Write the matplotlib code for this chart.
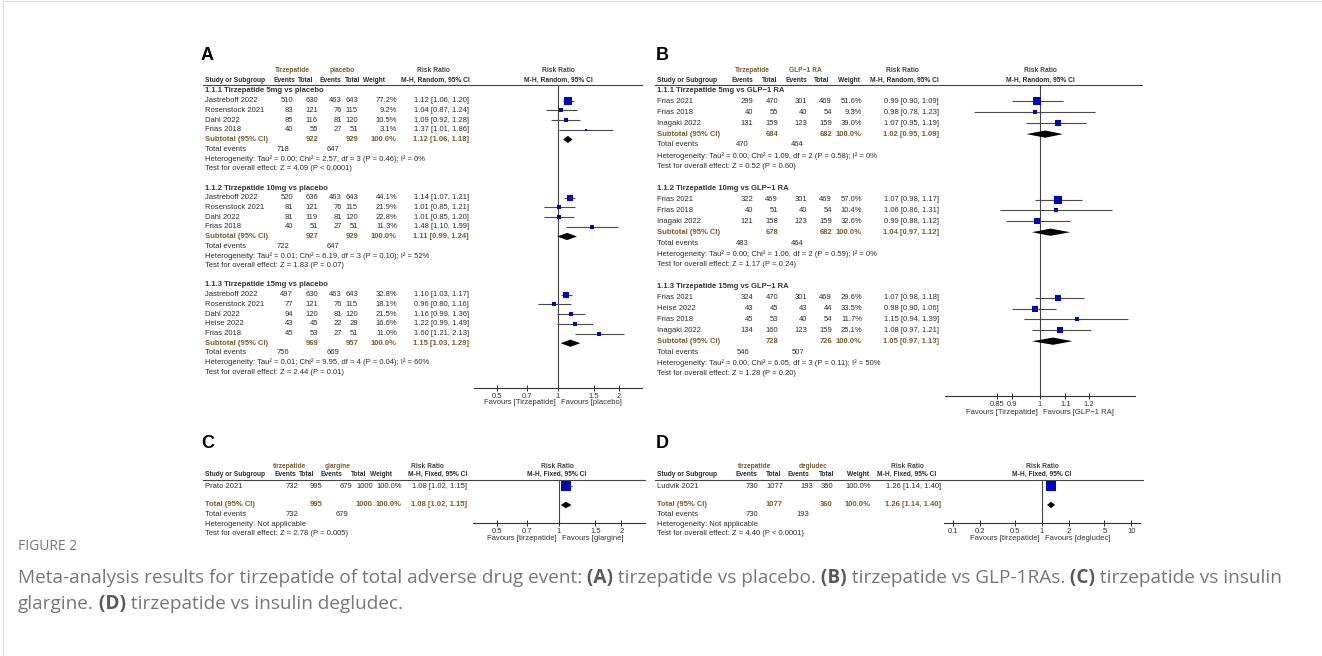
import numpy as np
import matplotlib
matplotlib.use("Agg")
import matplotlib.pyplot as plt
from matplotlib import transforms
from matplotlib.ticker import FixedLocator, NullLocator

W, H = 1322, 656
plt.rcParams['font.family'] = 'Liberation Sans'
plt.rcParams['font.size'] = 5.5

TXT = '#2b2b2b'
GRP = '#7a5a2a'
BLUE = '#0000c8'
CI_COL = '#4a4a4a'
HEAD_FS = 4.8

# ---------------- A: tirzepatide vs placebo (random effects)
a_titles = ['1.1.1 Tirzepatide 5mg vs placebo',
            '1.1.2 Tirzepatide 10mg vs placebo',
            '1.1.3 Tirzepatide 15mg vs placebo']
a_study = [['Jastreboff 2022', 'Rosenstock 2021', 'Dahl 2022', 'Frias 2018'],
           ['Jastreboff 2022', 'Rosenstock 2021', 'Dahl 2022', 'Frias 2018'],
           ['Jastreboff 2022', 'Rosenstock 2021', 'Dahl 2022', 'Heise 2022', 'Frias 2018']]
a_ev_t = [[510, 83, 85, 40], [520, 81, 81, 40], [497, 77, 94, 43, 45]]
a_n_t = [[630, 121, 116, 55], [636, 121, 119, 51], [630, 121, 120, 45, 53]]
a_ev_c = [[463, 76, 81, 27], [463, 76, 81, 27], [463, 76, 81, 22, 27]]
a_n_c = [[643, 115, 120, 51], [643, 115, 120, 51], [643, 115, 120, 28, 51]]
a_weight = [[77.2, 9.2, 10.5, 3.1], [44.1, 21.9, 22.8, 11.3], [32.8, 18.1, 21.5, 16.6, 11.0]]
a_rr = [[1.12, 1.04, 1.09, 1.37], [1.14, 1.01, 1.01, 1.48], [1.10, 0.96, 1.16, 1.22, 1.60]]
a_lo = [[1.06, 0.87, 0.92, 1.01], [1.07, 0.85, 0.85, 1.10], [1.03, 0.80, 0.99, 0.99, 1.21]]
a_hi = [[1.20, 1.24, 1.28, 1.86], [1.21, 1.21, 1.20, 1.99], [1.17, 1.16, 1.36, 1.49, 2.13]]
a_sub_rr = [1.12, 1.11, 1.15]
a_sub_lo = [1.06, 0.99, 1.03]
a_sub_hi = [1.18, 1.24, 1.29]
a_sub_w = [100.0, 100.0, 100.0]
a_sub_n_t = [922, 927, 969]
a_sub_n_c = [929, 929, 957]
a_tot_t = [718, 722, 756]
a_tot_c = [647, 647, 669]
a_het = ['Heterogeneity: Tau² = 0.00; Chi² = 2.57, df = 3 (P = 0.46); I² = 0%',
         'Heterogeneity: Tau² = 0.01; Chi² = 6.19, df = 3 (P = 0.10); I² = 52%',
         'Heterogeneity: Tau² = 0.01; Chi² = 9.95, df = 4 (P = 0.04); I² = 60%']
a_z = ['Z = 4.09 (P < 0.0001)', 'Z = 1.83 (P = 0.07)', 'Z = 2.44 (P = 0.01)']
a_ticks = [0.5, 0.7, 1, 1.5, 2]

# ---------------- B: tirzepatide vs GLP-1 RA (random effects)
b_titles = ['1.1.1 Tirzepatide 5mg vs GLP\u22121 RA',
            '1.1.2 Tirzepatide 10mg vs GLP\u22121 RA',
            '1.1.3 Tirzepatide 15mg vs GLP\u22121 RA']
b_study = [['Frias 2021', 'Frias 2018', 'Inagaki 2022'],
           ['Frias 2021', 'Frias 2018', 'Inagaki 2022'],
           ['Frias 2021', 'Heise 2022', 'Frias 2018', 'Inagaki 2022']]
b_ev_t = [[299, 40, 131], [322, 40, 121], [324, 43, 45, 134]]
b_n_t = [[470, 55, 159], [469, 51, 158], [470, 45, 53, 160]]
b_ev_c = [[301, 40, 123], [301, 40, 123], [301, 43, 40, 123]]
b_n_c = [[469, 54, 159], [469, 54, 159], [469, 44, 54, 159]]
b_weight = [[51.6, 9.3, 39.0], [57.0, 10.4, 32.6], [29.6, 33.5, 11.7, 25.1]]
b_rr = [[0.99, 0.98, 1.07], [1.07, 1.06, 0.99], [1.07, 0.98, 1.15, 1.08]]
b_lo = [[0.90, 0.78, 0.95], [0.98, 0.86, 0.88], [0.98, 0.90, 0.94, 0.97]]
b_hi = [[1.09, 1.23, 1.19], [1.17, 1.31, 1.12], [1.18, 1.06, 1.39, 1.21]]
b_sub_rr = [1.02, 1.04, 1.05]
b_sub_lo = [0.95, 0.97, 0.97]
b_sub_hi = [1.09, 1.12, 1.13]
b_sub_w = [100.0, 100.0, 100.0]
b_sub_n_t = [684, 678, 728]
b_sub_n_c = [682, 682, 726]
b_tot_t = [470, 483, 546]
b_tot_c = [464, 464, 507]
b_het = ['Heterogeneity: Tau² = 0.00; Chi² = 1.09, df = 2 (P = 0.58); I² = 0%',
         'Heterogeneity: Tau² = 0.00; Chi² = 1.06, df = 2 (P = 0.59); I² = 0%',
         'Heterogeneity: Tau² = 0.00; Chi² = 6.05, df = 3 (P = 0.11); I² = 50%']
b_z = ['Z = 0.52 (P = 0.60)', 'Z = 1.17 (P = 0.24)', 'Z = 1.28 (P = 0.20)']
b_ticks = [0.85, 0.9, 1, 1.1, 1.2]

# ---------------- C: tirzepatide vs insulin glargine (fixed effect)
c_study = 'Prato 2021'
c_ev_t, c_n_t, c_ev_c, c_n_c = 732, 995, 679, 1000
c_weight = 100.0
c_rr, c_lo, c_hi = 1.08, 1.02, 1.15
c_tot_rr, c_tot_lo, c_tot_hi = 1.08, 1.02, 1.15
c_z = 'Z = 2.78 (P = 0.005)'
c_ticks = [0.5, 0.7, 1, 1.5, 2]

# ---------------- D: tirzepatide vs insulin degludec (fixed effect)
d_study = 'Ludvik 2021'
d_ev_t, d_n_t, d_ev_c, d_n_c = 730, 1077, 193, 360
d_weight = 100.0
d_rr, d_lo, d_hi = 1.26, 1.14, 1.40
d_tot_rr, d_tot_lo, d_tot_hi = 1.26, 1.14, 1.40
d_z = 'Z = 4.40 (P < 0.0001)'
d_ticks = [0.1, 0.2, 0.5, 1, 2, 5, 10]

fig = plt.figure(figsize=(W / 100, H / 100), dpi=100)
bg = fig.add_axes([0, 0, 1, 1])
bg.set_xlim(0, W)
bg.set_ylim(H, 0)
bg.axis('off')

# page frame
bg.plot([3, W], [1, 1], color='#dcdcdc', lw=0.8)
bg.plot([3, 3], [1, H], color='#dcdcdc', lw=0.8)


def forest_axes(x0, x1, top, base, row0, step, xlim, ticks):
    ax = fig.add_axes([x0 / W, 1 - base / H, (x1 - x0) / W, (base - top) / H])
    ax.set_xscale('log')
    ax.set_xlim(xlim)
    ax.set_ylim((base - row0) / step, (top - row0) / step)
    ax.xaxis.set_major_locator(FixedLocator(ticks))
    ax.xaxis.set_minor_locator(NullLocator())
    ax.set_xticklabels([f'{t:g}' for t in ticks])
    ax.set_yticks([])
    for side in ('top', 'left', 'right'):
        ax.spines[side].set_visible(False)
    ax.spines['bottom'].set_color('#333333')
    ax.spines['bottom'].set_linewidth(0.8)
    ax.tick_params(axis='x', direction='inout', length=5, width=0.7, pad=1,
                   colors='#333333', labelsize=5.5)
    ax.patch.set_alpha(0)
    ax.axvline(1, color='#444444', lw=0.8, zorder=1)
    return ax


def cell(ax, x, row, s, ha='right', bold=False, color=TXT):
    tr = transforms.blended_transform_factory(bg.transData, ax.transData)
    ax.text(x, row, s, transform=tr, ha=ha, va='center', color=color,
            fontweight='bold' if bold else 'normal', clip_on=False)


def header(x_study, cols_c, grp_c, names, method, line, y1, y2, fx):
    kw = dict(va='center', fontweight='bold', fontsize=HEAD_FS)
    bg.text(grp_c[0], y1, names[0], ha='center', color=GRP, **kw)
    bg.text(grp_c[1], y1, names[1], ha='center', color=GRP, **kw)
    bg.text(grp_c[2], y1, 'Risk Ratio', ha='center', color='#444444', **kw)
    bg.text(fx, y1, 'Risk Ratio', ha='center', color='#444444', **kw)
    bg.text(x_study, y2, 'Study or Subgroup', ha='left', color=TXT, **kw)
    for x, s in zip(cols_c, ['Events', 'Total', 'Events', 'Total', 'Weight', method]):
        bg.text(x, y2, s, ha='center', color=TXT, **kw)
    bg.text(fx, y2, method, ha='center', color=TXT, **kw)
    bg.plot(line[:2], [line[2], line[2]], color='#444444', lw=0.8)


def favours(ax, y, left, right):
    tr = transforms.blended_transform_factory(ax.transData, bg.transData)
    ax.text(1, y, left, ha='right', va='center', color='#333333', clip_on=False,
            transform=transforms.offset_copy(tr, fig=fig, x=-2, units='dots'))
    ax.text(1, y, right, ha='left', va='center', color='#333333', clip_on=False,
            transform=transforms.offset_copy(tr, fig=fig, x=3, units='dots'))


def study_mark(ax, row, w, rr, lo, hi):
    side = max(2.0, 10.0 * np.sqrt(w / 100.0)) * 0.72
    ax.hlines(row, lo, hi, color=CI_COL, lw=0.8, zorder=2)
    ax.scatter([rr], [row], s=side ** 2, marker='s', color=BLUE, linewidths=0, zorder=3)


def diamond(ax, row, rr, lo, hi, half):
    ax.fill([lo, rr, hi, rr], [row, row - half, row, row + half], color='black', lw=0, zorder=3)


def fmt_ci(rr, lo, hi):
    return f'{rr:.2f} [{lo:.2f}, {hi:.2f}]'


def subgroup_panel(ax, step, xs, cols, titles, study, ev_t, n_t, ev_c, n_c, wt, rr, lo, hi,
                   s_rr, s_lo, s_hi, s_w, s_nt, s_nc, tot_t, tot_c, het, z):
    r = 0
    for g in range(len(titles)):
        cell(ax, xs, r, titles[g], ha='left', bold=True, color='#333333')
        r += 1
        for k in range(len(study[g])):
            cell(ax, xs, r, study[g][k], ha='left')
            cell(ax, cols[0], r, str(ev_t[g][k]))
            cell(ax, cols[1], r, str(n_t[g][k]))
            cell(ax, cols[2], r, str(ev_c[g][k]))
            cell(ax, cols[3], r, str(n_c[g][k]))
            cell(ax, cols[4], r, f'{wt[g][k]:.1f}%')
            cell(ax, cols[5], r, fmt_ci(rr[g][k], lo[g][k], hi[g][k]))
            study_mark(ax, r, wt[g][k], rr[g][k], lo[g][k], hi[g][k])
            r += 1
        cell(ax, xs, r, 'Subtotal (95% CI)', ha='left', bold=True, color=GRP)
        cell(ax, cols[1], r, str(s_nt[g]), bold=True, color=GRP)
        cell(ax, cols[3], r, str(s_nc[g]), bold=True, color=GRP)
        cell(ax, cols[4], r, f'{s_w[g]:.1f}%', bold=True, color=GRP)
        cell(ax, cols[5], r, fmt_ci(s_rr[g], s_lo[g], s_hi[g]), bold=True, color=GRP)
        diamond(ax, r, s_rr[g], s_lo[g], s_hi[g], 3.6 / step)
        r += 1
        cell(ax, xs, r, 'Total events', ha='left')
        cell(ax, cols[0] - 4, r, str(tot_t[g]))
        cell(ax, cols[2] - 3, r, str(tot_c[g]))
        r += 1
        cell(ax, xs, r, het[g], ha='left')
        r += 1
        cell(ax, xs, r, 'Test for overall effect: ' + z[g], ha='left')
        r += 2


def single_panel(ax, step, xs, cols, study, ev_t, n_t, ev_c, n_c, wt, rr, lo, hi,
                 t_rr, t_lo, t_hi, z):
    cell(ax, xs, 0, study, ha='left')
    for x, v in zip(cols[:4], [ev_t, n_t, ev_c, n_c]):
        cell(ax, x, 0, str(v))
    cell(ax, cols[4], 0, f'{wt:.1f}%')
    cell(ax, cols[5], 0, fmt_ci(rr, lo, hi))
    study_mark(ax, 0, wt, rr, lo, hi)
    cell(ax, xs, 2, 'Total (95% CI)', ha='left', bold=True, color=GRP)
    cell(ax, cols[1], 2, str(n_t), bold=True, color=GRP)
    cell(ax, cols[3], 2, str(n_c), bold=True, color=GRP)
    cell(ax, cols[4], 2, f'{wt:.1f}%', bold=True, color=GRP)
    cell(ax, cols[5], 2, fmt_ci(t_rr, t_lo, t_hi), bold=True, color=GRP)
    diamond(ax, 2, t_rr, t_lo, t_hi, 3.2 / step)
    cell(ax, xs, 3, 'Total events', ha='left')
    cell(ax, cols[0], 3, str(ev_t))
    cell(ax, cols[2] - 4, 3, str(ev_c))
    cell(ax, xs, 4, 'Heterogeneity: Not applicable', ha='left')
    cell(ax, xs, 5, 'Test for overall effect: ' + z, ha='left')


# ---------------- panel A
bg.text(207, 55, 'A', fontsize=13, fontweight='bold', ha='center', va='center', color='black')
header(205, [284, 306, 330, 353, 374, 435], (292, 342, 433), ('Tirzepatide', 'placebo'),
       'M-H, Random, 95% CI', (203, 642, 84.5), 71, 80.5, 558)
ax_a = forest_axes(474, 642, 84.5, 388, 91, 9.7, (1 / 2.6, 2.6), a_ticks)
subgroup_panel(ax_a, 9.7, 205, [293, 318, 342, 358, 397, 469], a_titles, a_study,
               a_ev_t, a_n_t, a_ev_c, a_n_c, a_weight, a_rr, a_lo, a_hi,
               a_sub_rr, a_sub_lo, a_sub_hi, a_sub_w, a_sub_n_t, a_sub_n_c,
               a_tot_t, a_tot_c, a_het, a_z)
favours(ax_a, 403, 'Favours [Tirzepatide]', 'Favours [placebo]')

# ---------------- panel B
bg.text(662, 55, 'B', fontsize=13, fontweight='bold', ha='center', va='center', color='black')
header(657, [742, 770, 796, 822, 849, 904], (752, 805, 902), ('Tirzepatide', 'GLP\u22121 RA'),
       'M-H, Random, 95% CI', (655, 1142, 84.5), 70.5, 80.5, 1040)
ax_b = forest_axes(945, 1135, 84.5, 396, 90.5, 10.9, (0.7, 1 / 0.7), b_ticks)
subgroup_panel(ax_b, 10.9, 657, [753, 778, 807, 832, 862, 939], b_titles, b_study,
               b_ev_t, b_n_t, b_ev_c, b_n_c, b_weight, b_rr, b_lo, b_hi,
               b_sub_rr, b_sub_lo, b_sub_hi, b_sub_w, b_sub_n_t, b_sub_n_c,
               b_tot_t, b_tot_c, b_het, b_z)
favours(ax_b, 413, 'Favours [Tirzepatide]', 'Favours [GLP\u22121 RA]')

# ---------------- panel C
bg.text(208, 443, 'C', fontsize=13, fontweight='bold', ha='center', va='center', color='black')
header(205, [285, 307, 331, 359, 381, 438], (290, 338, 427), ('tirzepatide', 'glargine'),
       'M-H, Fixed, 95% CI', (203, 645, 479.5), 466.5, 474.5, 557)
ax_c = forest_axes(473, 645, 479.5, 523, 486, 9.5, (1 / 2.6, 2.6), c_ticks)
single_panel(ax_c, 9.5, 205, [298, 322, 352, 373, 402, 467], c_study, c_ev_t, c_n_t, c_ev_c,
             c_n_c, c_weight, c_rr, c_lo, c_hi, c_tot_rr, c_tot_lo, c_tot_hi, c_z)
favours(ax_c, 538, 'Favours [tirzepatide]', 'Favours [glargine]')

# ---------------- panel D
bg.text(662, 443, 'D', fontsize=13, fontweight='bold', ha='center', va='center', color='black')
header(657, [746, 774, 798, 827, 858, 907], (755, 813, 907), ('tirzepatide', 'degludec'),
       'M-H, Fixed, 95% CI', (655, 1143, 479.5), 466.5, 474.5, 1042)
ax_d = forest_axes(944, 1140, 479.5, 523, 486, 9.5, (0.08, 12.5), d_ticks)
single_panel(ax_d, 9.5, 657, [758, 783, 813, 833, 871, 941], d_study, d_ev_t, d_n_t, d_ev_c,
             d_n_c, d_weight, d_rr, d_lo, d_hi, d_tot_rr, d_tot_lo, d_tot_hi, d_z)
favours(ax_d, 538, 'Favours [tirzepatide]', 'Favours [degludec]')

# ---------------- caption
CAP = '#767676'
bg.text(18, 547, 'FIGURE 2', fontfamily='Open Sans', fontsize=10, color=CAP, va='center', ha='left')


def caption_line(y, pieces):
    prev = None
    for s, bold in pieces:
        kw = dict(fontfamily='Open Sans', fontsize=13.7, color='#5a5a5a' if bold else CAP,
                  fontweight='bold' if bold else 'normal', va='center', ha='left')
        if prev is None:
            prev = bg.text(18, y, s, **kw)
        else:
            prev = bg.annotate(s, xy=(1, 0.5), xycoords=prev, **kw)


caption_line(578, [('Meta-analysis results for tirzepatide of total adverse drug event:', False),
                   (' (A)', True), (' tirzepatide vs placebo.', False),
                   (' (B)', True), (' tirzepatide vs GLP-1RAs.', False),
                   (' (C)', True), (' tirzepatide vs insulin', False)])
caption_line(604, [('glargine.', False), (' (D)', True),
                   (' tirzepatide vs insulin degludec.', False)])

fig.savefig('out.png', dpi=100)
